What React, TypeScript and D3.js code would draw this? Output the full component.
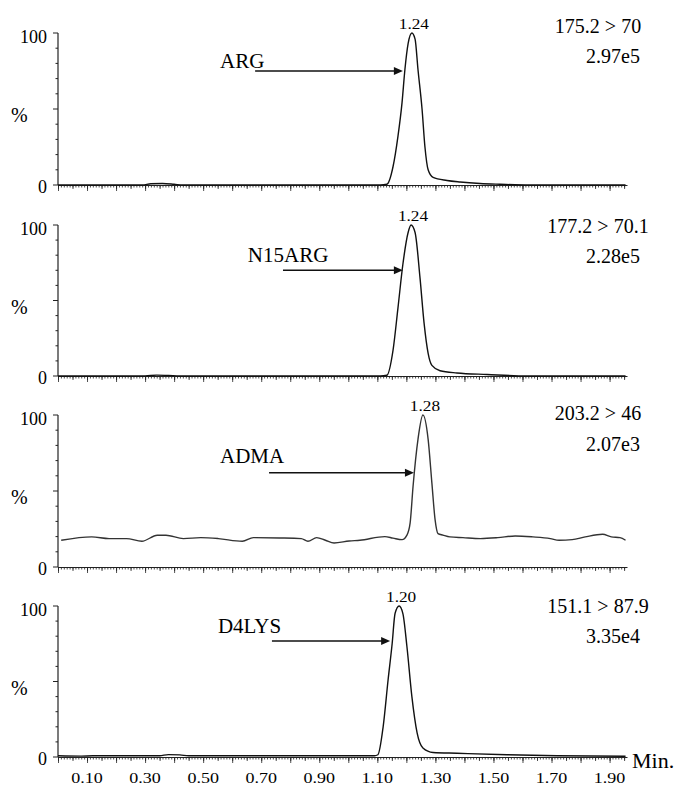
import React, { useEffect, useRef } from "react";
import * as d3 from "d3";

// MRM chromatograms, one panel per compound
const compounds = ["ARG", "N15ARG", "ADMA", "D4LYS"];
const transitions = ["175.2 > 70", "177.2 > 70.1", "203.2 > 46", "151.1 > 87.9"];
const intensities = ["2.97e5", "2.28e5", "2.07e3", "3.35e4"];
const peakLabels = ["1.24", "1.24", "1.28", "1.20"];

const xTickValues = [0.1, 0.3, 0.5, 0.7, 0.9, 1.1, 1.3, 1.5, 1.7, 1.9];
const xTickLabels = ["0.10", "0.30", "0.50", "0.70", "0.90", "1.10", "1.30", "1.50", "1.70", "1.90"];
const yTickLabels = ["0", "100"];

// [time (min), relative intensity %]
const argTrace = [
  [0, 0], [0.29, 0], [0.32, 0.8], [0.36, 1], [0.4, 0.5], [0.43, 0], [1.11, 0],
  [1.133, 0.5], [1.154, 12], [1.171, 32], [1.185, 54], [1.195, 76], [1.206, 93],
  [1.219, 100], [1.23, 96], [1.24, 76], [1.254, 50], [1.264, 25], [1.275, 10],
  [1.292, 5], [1.34, 3], [1.385, 2], [1.454, 1], [1.523, 0.5], [1.626, 0], [1.955, 0],
];
const n15ArgTrace = [
  [0, 0], [0.3, 0], [0.34, 0.6], [0.38, 0.4], [0.42, 0], [1.11, 0],
  [1.133, 0.5], [1.154, 17], [1.171, 45], [1.188, 74], [1.206, 95], [1.216, 100],
  [1.23, 95], [1.247, 65], [1.261, 35], [1.275, 15], [1.288, 7], [1.316, 3.5],
  [1.374, 2], [1.478, 1], [1.616, 0], [1.955, 0],
];
const admaTrace = [
  [0.011, 17.6], [0.116, 19.8], [0.176, 18.7], [0.236, 18.7], [0.289, 16.9],
  [0.342, 20.9], [0.372, 20.9], [0.432, 18.7], [0.492, 19.3], [0.552, 18.7],
  [0.635, 16.9], [0.673, 19.3], [0.763, 19.1], [0.838, 18.7], [0.861, 16.9],
  [0.891, 19.3], [0.921, 17.6], [0.951, 15.8], [1.003, 17.1], [1.04, 17.6],
  [1.126, 20], [1.154, 19], [1.185, 18], [1.202, 21], [1.213, 29], [1.223, 53],
  [1.24, 84], [1.257, 100], [1.275, 84], [1.288, 55], [1.299, 31], [1.309, 22],
  [1.326, 21], [1.35, 19.8], [1.395, 19.3], [1.455, 18.7], [1.515, 19.3],
  [1.575, 20.4], [1.636, 19.8], [1.696, 18.7], [1.726, 17.6], [1.771, 18],
  [1.816, 19.8], [1.876, 21.5], [1.906, 19.8], [1.936, 19.3], [1.955, 17.6],
];
const d4LysTrace = [
  [0, 0.8], [0.08, 0.6], [0.12, 0.8], [0.35, 0.8], [0.38, 1.6], [0.42, 1.4],
  [0.45, 0.8], [1.09, 0.8], [1.102, 1.5], [1.12, 20], [1.137, 51], [1.151, 75],
  [1.161, 95], [1.175, 100], [1.188, 95], [1.202, 73], [1.219, 40], [1.237, 16],
  [1.257, 6], [1.292, 3], [1.374, 2.5], [1.547, 1.5], [1.719, 0.8], [1.955, 0.5],
];
const traces = [argTrace, n15ArgTrace, admaTrace, d4LysTrace];

// label + arrow placement in data units: text start time, text baseline %, arrow from/to time, arrow %
const annotations = [
  { tx: 0.558, ty: 77, a0: 0.679, a1: 1.188, ay: 75 },
  { tx: 0.654, ty: 75.5, a0: 0.775, a1: 1.188, ay: 70 },
  { tx: 0.558, ty: 68.4, a0: 0.727, a1: 1.226, ay: 62 },
  { tx: 0.551, ty: 82, a0: 0.737, a1: 1.144, ay: 76.8 },
];

const W = 677;
const H = 788;
const panelTop = [33, 225, 415, 606];
const panelBase = [185, 376, 567, 757];
const infoOffset = [[0, 30], [8, 38], [5, 36], [7, 37]];
const font = "'Liberation Serif', 'Times New Roman', serif";

const App = () => {
  const ref = useRef(null);

  useEffect(() => {
    const svg = d3.select(ref.current);
    svg.selectAll("*").remove();

    const x = d3.scaleLinear().domain([0, 1.96]).range([58, 627]);
    const minor = d3.range(0, 196).map((i) => i / 100);
    const mid = d3.range(0, 40).map((i) => i / 20);
    const major = d3.range(0, 20).map((i) => i / 10);

    traces.forEach((trace, i) => {
      const y = d3.scaleLinear().domain([0, 100]).range([panelBase[i], panelTop[i]]);
      const g = svg.append("g");

      // y axis
      g.append("line")
        .attr("x1", x(0)).attr("x2", x(0))
        .attr("y1", y(0)).attr("y2", y(100))
        .attr("stroke", "#222").attr("stroke-width", 1.2);
      d3.range(0, 110, 10).forEach((v) => {
        g.append("line")
          .attr("x1", x(0)).attr("x2", x(0) - (v % 50 === 0 ? 5 : 2.5))
          .attr("y1", y(v)).attr("y2", y(v))
          .attr("stroke", "#222").attr("stroke-width", 1);
      });

      // x axis with comb ticks
      [[minor, 2.5], [mid, 4], [major, 6]].forEach(([vals, size], k) => {
        const ax = g.append("g")
          .attr("transform", `translate(0,${y(0)})`)
          .call(d3.axisBottom(x).tickValues(vals).tickSize(size).tickSizeOuter(0).tickFormat(() => ""));
        ax.selectAll("line").attr("stroke", "#222").attr("stroke-width", 0.8);
        if (k > 0) ax.select(".domain").remove();
        else ax.select(".domain").attr("stroke", "#222").attr("stroke-width", 1.2);
      });

      // trace
      const line = d3.line()
        .x((d) => x(d[0]))
        .y((d) => y(d[1]))
        .curve(d3.curveMonotoneX);
      g.append("path")
        .datum(trace)
        .attr("d", line)
        .attr("fill", "none")
        .attr("stroke", i === 2 ? "#333" : "#111")
        .attr("stroke-width", 1.4);

      // y labels
      g.append("text").attr("x", 47).attr("y", y(100) + 10)
        .attr("text-anchor", "end").attr("font-family", font).attr("font-size", 18)
        .text(yTickLabels[1]);
      g.append("text").attr("x", 47).attr("y", y(0) + 8)
        .attr("text-anchor", "end").attr("font-family", font).attr("font-size", 18)
        .text(yTickLabels[0]);
      g.append("text").attr("x", 11).attr("y", y(100) + 89)
        .attr("font-family", font).attr("font-size", 20)
        .text("%");

      // peak apex label
      const apex = d3.greatest(trace, (d) => d[1]);
      g.append("text")
        .attr("transform", `translate(${x(apex[0]) + 2},${y(100) - 4}) scale(1.15,1)`)
        .attr("text-anchor", "middle").attr("font-family", font).attr("font-size", 15)
        .text(peakLabels[i]);

      // compound name + arrow
      const a = annotations[i];
      g.append("text").attr("x", x(a.tx)).attr("y", y(a.ty))
        .attr("font-family", font).attr("font-size", 21)
        .text(compounds[i]);
      const tip = x(a.a1);
      const ay = y(a.ay);
      g.append("line")
        .attr("x1", x(a.a0)).attr("x2", tip - 6)
        .attr("y1", ay).attr("y2", ay)
        .attr("stroke", "#111").attr("stroke-width", 1.4);
      g.append("path")
        .attr("d", `M${tip},${ay}L${tip - 9},${ay - 4}L${tip - 9},${ay + 4}Z`)
        .attr("fill", "#111");

      // transition and intensity
      g.append("text").attr("x", 598).attr("y", y(100) + infoOffset[i][0])
        .attr("text-anchor", "middle").attr("font-family", font).attr("font-size", 20)
        .text(transitions[i]);
      g.append("text").attr("x", 640).attr("y", y(100) + infoOffset[i][1])
        .attr("text-anchor", "end").attr("font-family", font).attr("font-size", 20)
        .text(intensities[i]);
    });

    // bottom time labels
    const bottom = svg.append("g");
    xTickValues.forEach((v, k) => {
      bottom.append("text")
        .attr("transform", `translate(${x(v)},783) scale(1.2,1)`)
        .attr("text-anchor", "middle").attr("font-family", font).attr("font-size", 15)
        .text(xTickLabels[k]);
    });
    bottom.append("text").attr("x", 632).attr("y", 768)
      .attr("font-family", font).attr("font-size", 22)
      .text("Min.");
  }, []);

  return (
    <svg
      ref={ref}
      width={W}
      height={H}
      style={{ position: "absolute", left: 0, top: 0, background: "#fff" }}
    ></svg>
  );
};

export default App;
